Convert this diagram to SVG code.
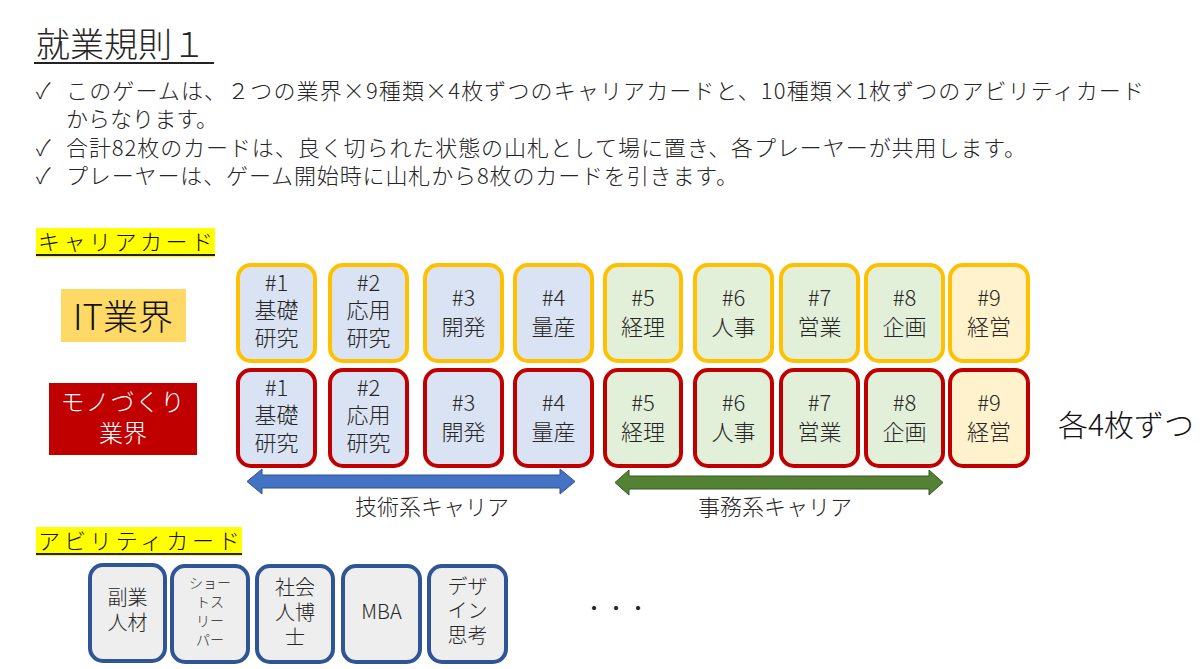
<svg xmlns="http://www.w3.org/2000/svg" width="1200" height="669" viewBox="0 0 1200 669">
<defs>
<style>
text{font-family:"Noto Sans CJK JP","Noto Sans",sans-serif;fill:#262626;font-weight:300}
.t{font-size:22px}
.c{font-size:22px;text-anchor:middle}
.a{font-size:20px;text-anchor:middle}
.s{font-size:14px;text-anchor:middle}
.card rect{stroke-width:4}
.it rect{stroke:#FFC000}
.mono rect{stroke:#C00000}
.tech{fill:#DAE3F3}
.adm{fill:#E2F0D9}
.mgmt{fill:#FFF2CC}
.ab rect{fill:#EEEEEE;stroke:#2F5597;stroke-width:4}
</style>
</defs>
<rect width="1200" height="669" fill="#fff"/>
<g id="title">
<text x="36" y="57" style="font-size:34px">就業規則１</text>
<line x1="34" y1="63" x2="214" y2="63" stroke="#222" stroke-width="2"/>
</g>
<g id="bullets">
<text x="36" y="99" class="t">✓</text><text x="66" y="99" class="t" textLength="1078" lengthAdjust="spacing">このゲームは、２つの業界×9種類×4枚ずつのキャリアカードと、10種類×1枚ずつのアビリティカード</text>
<text x="66" y="127" class="t" textLength="152" lengthAdjust="spacing">からなります。</text>
<text x="36" y="156" class="t">✓</text><text x="66" y="156" class="t" textLength="960" lengthAdjust="spacing">合計82枚のカードは、良く切られた状態の山札として場に置き、各プレーヤーが共用します。</text>
<text x="36" y="184" class="t">✓</text><text x="66" y="184" class="t" textLength="672" lengthAdjust="spacing">プレーヤーは、ゲーム開始時に山札から8枚のカードを引きます。</text>
</g>
<g id="career-heading">
<rect x="36" y="228" width="179" height="29" fill="#FFFF00"/>
<text x="38" y="250" textLength="175" lengthAdjust="spacing" style="font-size:22px;fill:#111">キャリアカード</text>
<line x1="36" y1="255" x2="215" y2="255" stroke="#222" stroke-width="2"/>
</g>
<g id="it-industry">
<rect x="61" y="289" width="125" height="53" fill="#FFD966"/>
<text x="123" y="330" style="font-size:35px;text-anchor:middle;fill:#111">IT業界</text>
</g>
<g id="mono-industry">
<rect x="49" y="383" width="148" height="72" fill="#C00000"/>
<text style="font-size:24px;text-anchor:middle;fill:#fff"><tspan x="123" y="411" style="letter-spacing:1px">モノづくり</tspan><tspan x="123" y="442">業界</tspan></text>
</g>
<g id="it-cards" class="it">
<g id="it1" class="card"><rect x="238" y="265" width="77" height="96" rx="13" class="tech"/><text class="c"><tspan x="276.5" y="291">#1</tspan><tspan x="276.5" y="318">基礎</tspan><tspan x="276.5" y="346">研究</tspan></text></g>
<g id="it2" class="card"><rect x="330" y="265" width="77" height="96" rx="13" class="tech"/><text class="c"><tspan x="368.5" y="291">#2</tspan><tspan x="368.5" y="318">応用</tspan><tspan x="368.5" y="346">研究</tspan></text></g>
<g id="it3" class="card"><rect x="425" y="265" width="77" height="96" rx="13" class="tech"/><text class="c"><tspan x="463.5" y="306">#3</tspan><tspan x="463.5" y="335">開発</tspan></text></g>
<g id="it4" class="card"><rect x="515" y="265" width="77" height="96" rx="13" class="tech"/><text class="c"><tspan x="553.5" y="306">#4</tspan><tspan x="553.5" y="335">量産</tspan></text></g>
<g id="it5" class="card"><rect x="605" y="265" width="76" height="96" rx="13" class="adm"/><text class="c"><tspan x="643" y="306">#5</tspan><tspan x="643" y="335">経理</tspan></text></g>
<g id="it6" class="card"><rect x="695" y="265" width="77" height="96" rx="13" class="adm"/><text class="c"><tspan x="733.5" y="306">#6</tspan><tspan x="733.5" y="335">人事</tspan></text></g>
<g id="it7" class="card"><rect x="781" y="265" width="77" height="96" rx="13" class="adm"/><text class="c"><tspan x="819.5" y="306">#7</tspan><tspan x="819.5" y="335">営業</tspan></text></g>
<g id="it8" class="card"><rect x="866" y="265" width="77" height="96" rx="13" class="adm"/><text class="c"><tspan x="904.5" y="306">#8</tspan><tspan x="904.5" y="335">企画</tspan></text></g>
<g id="it9" class="card"><rect x="950" y="265" width="78" height="96" rx="13" class="mgmt"/><text class="c"><tspan x="989" y="306">#9</tspan><tspan x="989" y="335">経営</tspan></text></g>
</g>
<g id="mono-cards" class="mono">
<g id="mono1" class="card"><rect x="238" y="370" width="77" height="96" rx="13" class="tech"/><text class="c"><tspan x="276.5" y="396">#1</tspan><tspan x="276.5" y="423">基礎</tspan><tspan x="276.5" y="451">研究</tspan></text></g>
<g id="mono2" class="card"><rect x="330" y="370" width="77" height="96" rx="13" class="tech"/><text class="c"><tspan x="368.5" y="396">#2</tspan><tspan x="368.5" y="423">応用</tspan><tspan x="368.5" y="451">研究</tspan></text></g>
<g id="mono3" class="card"><rect x="425" y="370" width="77" height="96" rx="13" class="tech"/><text class="c"><tspan x="463.5" y="411">#3</tspan><tspan x="463.5" y="440">開発</tspan></text></g>
<g id="mono4" class="card"><rect x="515" y="370" width="77" height="96" rx="13" class="tech"/><text class="c"><tspan x="553.5" y="411">#4</tspan><tspan x="553.5" y="440">量産</tspan></text></g>
<g id="mono5" class="card"><rect x="605" y="370" width="76" height="96" rx="13" class="adm"/><text class="c"><tspan x="643" y="411">#5</tspan><tspan x="643" y="440">経理</tspan></text></g>
<g id="mono6" class="card"><rect x="695" y="370" width="77" height="96" rx="13" class="adm"/><text class="c"><tspan x="733.5" y="411">#6</tspan><tspan x="733.5" y="440">人事</tspan></text></g>
<g id="mono7" class="card"><rect x="781" y="370" width="77" height="96" rx="13" class="adm"/><text class="c"><tspan x="819.5" y="411">#7</tspan><tspan x="819.5" y="440">営業</tspan></text></g>
<g id="mono8" class="card"><rect x="866" y="370" width="77" height="96" rx="13" class="adm"/><text class="c"><tspan x="904.5" y="411">#8</tspan><tspan x="904.5" y="440">企画</tspan></text></g>
<g id="mono9" class="card"><rect x="950" y="370" width="78" height="96" rx="13" class="mgmt"/><text class="c"><tspan x="989" y="411">#9</tspan><tspan x="989" y="440">経営</tspan></text></g>
</g>
<g id="each4">
<text x="1058" y="436" style="font-size:30px;fill:#111">各4枚ずつ</text>
</g>
<g id="connectors">
<path d="M247,481.5 L262,469 L262,475 L560,475 L560,469 L575,481.5 L560,494 L560,488 L262,488 L262,494 Z" fill="#4472C4" stroke="#2F528F" stroke-width="1"/>
<path d="M615,482.5 L629,470 L629,476 L929,476 L929,470 L943,482.5 L929,495 L929,489 L629,489 L629,495 Z" fill="#548235" stroke="#385723" stroke-width="1"/>
</g>
<g id="tech-label"><text x="432" y="515" class="c">技術系キャリア</text></g>
<g id="admin-label"><text x="775" y="515" class="c">事務系キャリア</text></g>
<g id="ability-heading">
<rect x="36" y="527" width="206" height="29" fill="#FFFF00"/>
<text x="38" y="549" textLength="202" lengthAdjust="spacing" style="font-size:22px;fill:#111">アビリティカード</text>
<line x1="36" y1="554" x2="242" y2="554" stroke="#222" stroke-width="2"/>
</g>
<g id="ab1" class="ab"><rect x="90" y="565" width="75" height="96" rx="13"/><text class="a"><tspan x="127.5" y="605">副業</tspan><tspan x="127.5" y="630">人材</tspan></text></g>
<g id="ab2" class="ab"><rect x="172" y="566" width="76" height="96" rx="13"/><text class="s"><tspan x="210" y="588">ショー</tspan><tspan x="210" y="607">トス</tspan><tspan x="210" y="626">リー</tspan><tspan x="210" y="645">パー</tspan></text></g>
<g id="ab3" class="ab"><rect x="257" y="566" width="76" height="96" rx="13"/><text class="a"><tspan x="295" y="595">社会</tspan><tspan x="295" y="620">人博</tspan><tspan x="295" y="645">士</tspan></text></g>
<g id="ab4" class="ab"><rect x="343" y="566" width="77" height="96" rx="13"/><text class="a" x="381.5" y="619">MBA</text></g>
<g id="ab5" class="ab"><rect x="429" y="566" width="77" height="96" rx="13"/><text class="a"><tspan x="467.5" y="594">デザ</tspan><tspan x="467.5" y="618">イン</tspan><tspan x="467.5" y="643">思考</tspan></text></g>
<g id="more"><text x="616" y="616" class="c">・・・</text></g>
</svg>
